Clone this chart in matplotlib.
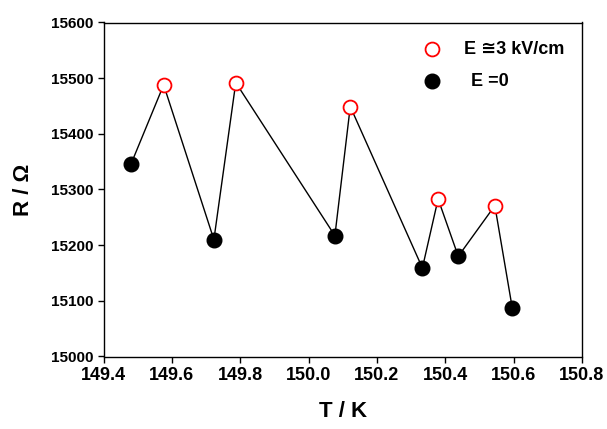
import matplotlib
matplotlib.use('Agg')
import matplotlib.pyplot as plt

plt.rcParams['font.family'] = ['Liberation Sans', 'DejaVu Sans']

# whole sweep, in measurement order
T_all = [149.48, 149.576, 149.723, 149.787, 150.077, 150.122, 150.333, 150.379, 150.438, 150.545, 150.596]
R_all = [15345, 15488, 15210, 15492, 15217, 15449, 15159, 15283, 15180, 15271, 15087]

# E = 0 points
T_zero = [149.48, 149.723, 150.077, 150.333, 150.438, 150.596]
R_zero = [15345, 15210, 15217, 15159, 15180, 15087]

# E ~ 3 kV/cm points
T_field = [149.576, 149.787, 150.122, 150.379, 150.545]
R_field = [15488, 15492, 15449, 15283, 15271]

x_ticks = [149.4, 149.6, 149.8, 150.0, 150.2, 150.4, 150.6, 150.8]
y_ticks = [15000, 15100, 15200, 15300, 15400, 15500, 15600]

fig = plt.figure(figsize=(6.07, 4.29), dpi=100)
ax = fig.add_axes([103.5/607, 1 - 356.5/429, 478.5/607, 334/429])

ax.plot(T_all, R_all, color='black', lw=1.0, zorder=1)
ax.plot(T_zero, R_zero, 'o', color='black', ms=10.5, zorder=2)
ax.plot(T_field, R_field, 'o', mfc='white', mec='red', mew=1.3, ms=10, zorder=3)

ax.set_xlim(149.4, 150.8)
ax.set_ylim(15000, 15600)
ax.set_xticks(x_ticks)
ax.set_xticklabels([f'{t:.1f}' for t in x_ticks], fontsize=13, fontweight='bold')
ax.set_yticks(y_ticks)
ax.set_yticklabels([str(v) for v in y_ticks], fontsize=11, fontweight='bold')
ax.tick_params(direction='out', length=4, width=1, top=False, right=False)
for s in ax.spines.values():
    s.set_linewidth(1)

ax.set_xlabel('T / K', fontsize=16, fontweight='bold', labelpad=12)
ax.set_ylabel('R / Ω', fontsize=16, fontweight='bold', labelpad=12)

# legend, drawn by hand without a frame
fig.lines.append(plt.Line2D([432/607], [1 - 49/429], marker='o', mfc='white', mec='red',
                            mew=1.3, ms=10, transform=fig.transFigure))
fig.lines.append(plt.Line2D([432/607], [1 - 81/429], marker='o', color='black',
                            ms=10.5, transform=fig.transFigure))
fig.text(464/607, 1 - 49/429, 'E ≅3 kV/cm', fontsize=13, fontweight='bold', va='center')
fig.text(471/607, 1 - 81/429, 'E =0', fontsize=13, fontweight='bold', va='center')

fig.savefig('out.png', dpi=100)
